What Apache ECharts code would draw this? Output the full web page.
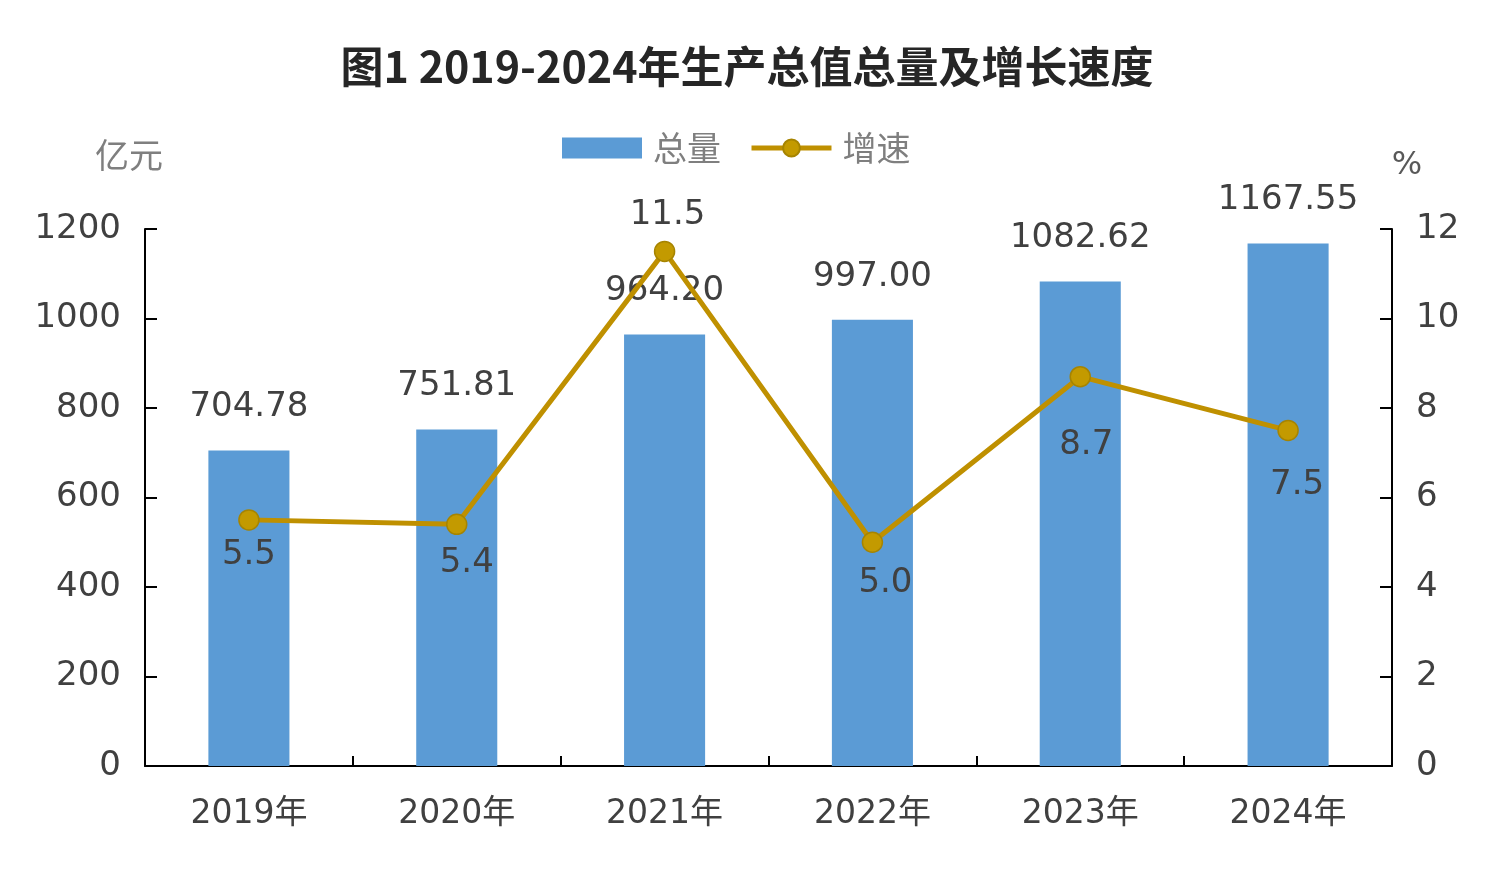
<!DOCTYPE html>
<html>
<head>
<meta charset="utf-8">
<script src="https://cdn.jsdelivr.net/npm/echarts@6/dist/echarts.min.js"></script>
<style>
html,body{margin:0;padding:0;background:#fff;}
#chart{width:1494px;height:891px;}
</style>
</head>
<body>
<div id="chart"></div>
<script>
const categories = ['2019年', '2020年', '2021年', '2022年', '2023年', '2024年'];
const totalValues = [704.78, 751.81, 964.20, 997.00, 1082.62, 1167.55];
const growthValues = [5.5, 5.4, 11.5, 5.0, 8.7, 7.5];
const leftTicks = [0, 200, 400, 600, 800, 1000, 1200];
const rightTicks = [0, 2, 4, 6, 8, 10, 12];

// label placement styling (not data)
const growthLabelPos = ['bottom', 'bottom', 'top', 'bottom', 'bottom', 'bottom'];
const growthLabelOffset = [[0, 0], [10, 3], [3, 0], [13, 5], [6, 33], [9, 19]];

const chart = echarts.init(document.getElementById('chart'));
const font = '"DejaVu Sans", "Noto Sans CJK SC", sans-serif';
const axisColor = '#000';
const textColor = '#404040';

chart.setOption({
  animation: false,
  title: {
    text: '图1 2019-2024年生产总值总量及增长速度',
    left: 'center',
    top: 40,
    textStyle: {
      fontFamily: '"Noto Sans CJK SC", sans-serif',
      fontWeight: 'bold',
      fontSize: 43,
      color: '#262626'
    }
  },
  legend: {
    top: 126,
    left: 557,
    itemWidth: 80,
    itemHeight: 21,
    itemGap: 28,
    textStyle: { fontFamily: '"Noto Sans CJK SC", sans-serif', fontSize: 34, color: '#7f7f7f', padding: [0, 0, 0, 6] },
    data: [
      { name: '总量', icon: 'rect' },
      { name: '增速', lineStyle: { width: 5 } }
    ]
  },
  grid: { left: 145, right: 102, top: 229, bottom: 125 },
  xAxis: {
    type: 'category',
    data: categories,
    boundaryGap: true,
    axisLine: { lineStyle: { color: axisColor, width: 2 } },
    axisTick: { show: true, inside: true, length: 10, lineStyle: { color: axisColor, width: 2 } },
    axisLabel: { margin: 32, fontFamily: font, fontSize: 33, color: textColor }
  },
  yAxis: [
    {
      type: 'value',
      min: leftTicks[0], max: leftTicks[leftTicks.length - 1], interval: leftTicks[1] - leftTicks[0],
      name: '亿元',
      nameLocation: 'end',
      nameGap: 74,
      nameTextStyle: { fontFamily: '"Noto Sans CJK SC", sans-serif', fontSize: 34, color: '#7f7f7f', verticalAlign: 'middle', align: 'center', padding: [0, 32, 0, 0] },
      axisLine: { show: true, lineStyle: { color: axisColor, width: 2 } },
      axisTick: { show: true, inside: true, length: 12, lineStyle: { color: axisColor, width: 2 } },
      axisLabel: { margin: 24, fontFamily: font, fontSize: 34, color: textColor, formatter: v => String(v) },
      splitLine: { show: false }
    },
    {
      type: 'value',
      min: rightTicks[0], max: rightTicks[rightTicks.length - 1], interval: rightTicks[1] - rightTicks[0],
      name: '%',
      nameLocation: 'end',
      nameGap: 63,
      nameTextStyle: { fontFamily: font, fontSize: 32, color: '#595959', verticalAlign: 'middle', align: 'center', padding: [0, 0, 0, 30] },
      position: 'right',
      axisLine: { show: true, lineStyle: { color: axisColor, width: 2 } },
      axisTick: { show: true, inside: true, length: 12, lineStyle: { color: axisColor, width: 2 } },
      axisLabel: { margin: 24, fontFamily: font, fontSize: 34, color: textColor, formatter: v => String(v) },
      splitLine: { show: false }
    }
  ],
  series: [
    {
      name: '总量',
      type: 'bar',
      yAxisIndex: 0,
      data: totalValues,
      barWidth: '39%',
      itemStyle: { color: '#5B9BD5' },
      label: {
        show: true,
        position: 'top',
        distance: 26,
        fontFamily: font,
        fontSize: 34,
        color: textColor,
        formatter: p => p.value.toFixed(2)
      },
      z: 2
    },
    {
      name: '增速',
      type: 'line',
      yAxisIndex: 1,
      data: growthValues.map((v, i) => ({
        value: v,
        label: { position: growthLabelPos[i], offset: growthLabelOffset[i] }
      })),
      symbol: 'circle',
      symbolSize: 20,
      lineStyle: { color: '#BF9000', width: 5 },
      itemStyle: { color: '#C39A00', borderColor: '#A68400', borderWidth: 1.5 },
      label: {
        show: true,
        distance: 8,
        fontFamily: font,
        fontSize: 34,
        color: textColor,
        formatter: p => p.value.toFixed(1)
      },
      z: 3
    }
  ]
});
</script>
</body>
</html>
